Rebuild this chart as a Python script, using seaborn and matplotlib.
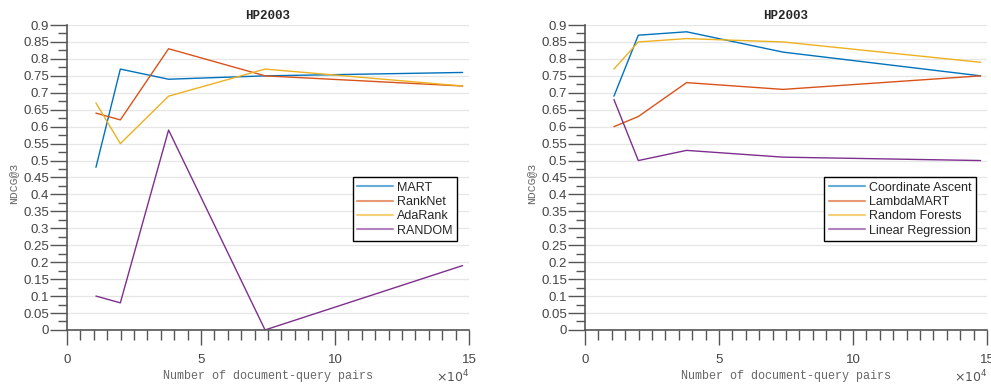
import numpy as np
import pandas as pd
import matplotlib
matplotlib.use("Agg")
import matplotlib.pyplot as plt
from matplotlib.ticker import MultipleLocator, FuncFormatter
import seaborn as sns

# ============================================================
# Data
# ============================================================

PAIRS = [10800, 19900, 37900, 73900, 147600]

LEFT_NAMES = ["MART", "RankNet", "AdaRank", "RANDOM"]
MART = [0.48, 0.77, 0.74, 0.75, 0.76]
RANKNET = [0.64, 0.62, 0.83, 0.75, 0.72]
ADARANK = [0.67, 0.55, 0.69, 0.77, 0.72]
RANDOM = [0.10, 0.08, 0.59, 0.00, 0.19]

RIGHT_NAMES = ["Coordinate Ascent", "LambdaMART", "Random Forests", "Linear Regression"]
COORD_ASCENT = [0.69, 0.87, 0.88, 0.82, 0.75]
LAMBDAMART = [0.60, 0.63, 0.73, 0.71, 0.75]
RANDOM_FORESTS = [0.77, 0.85, 0.86, 0.85, 0.79]
LINEAR_REG = [0.68, 0.50, 0.53, 0.51, 0.50]

COLORS = ["#0072BD", "#D95319", "#EDB120", "#7E2F8E"]
TITLE = "HP2003"
XLABEL = "Number of document-query pairs"
YLABEL = "NDCG@3"

# ============================================================
# Helpers
# ============================================================

def to_long(names, series):
    rows = []
    for name, vals in zip(names, series):
        for x, y in zip(PAIRS, vals):
            rows.append({"pairs": x, "ndcg": y, "model": name})
    return pd.DataFrame(rows)


def fmt_y(v, pos):
    if abs(v) < 1e-9:
        return "0"
    return f"{v:.2f}".rstrip("0").rstrip(".")


def draw_panel(ax, df, names, legend_x):
    sns.lineplot(data=df, x="pairs", y="ndcg", hue="model", hue_order=names,
                 palette=COLORS, linewidth=1.0, ax=ax, legend=True, errorbar=None)

    ax.set_xlim(0, 150000)
    ax.set_ylim(0, 0.9)
    ax.xaxis.set_major_locator(MultipleLocator(50000))
    ax.xaxis.set_minor_locator(MultipleLocator(5000))
    ax.xaxis.set_major_formatter(FuncFormatter(lambda v, p: f"{v / 1e4:g}"))
    ax.yaxis.set_major_locator(MultipleLocator(0.05))
    ax.yaxis.set_minor_locator(MultipleLocator(0.025))
    ax.yaxis.set_major_formatter(FuncFormatter(fmt_y))

    ax.grid(True, axis="y", which="major", color="#e6e6e6", linewidth=0.9)
    ax.set_axisbelow(True)
    for side in ["top", "right"]:
        ax.spines[side].set_visible(False)
    for side in ["left", "bottom"]:
        ax.spines[side].set_color("#555555")
        ax.spines[side].set_linewidth(1.2)

    ax.tick_params(axis="both", which="both", bottom=True, left=True, direction="out",
                   width=1.0, color="#555555")
    ax.tick_params(axis="both", which="major", labelcolor="#444444", labelsize=9.5)
    ax.tick_params(axis="y", which="major", length=12, pad=1)
    ax.tick_params(axis="y", which="minor", length=6.5)
    ax.tick_params(axis="x", which="major", length=11, pad=6)
    ax.tick_params(axis="x", which="minor", length=7.2)

    ax.set_title(TITLE, fontsize=9, fontweight="bold", family="Liberation Mono", pad=4)
    ax.set_xlabel(XLABEL, fontsize=8.5, family="Liberation Mono", color="#666666", labelpad=3)
    ax.set_ylabel(YLABEL, fontsize=8.2, family="Liberation Mono", color="#666666")
    ax.yaxis.set_label_coords(-0.122, 0.48)
    ax.text(1.0, -0.155, r"$\times10^4$", transform=ax.transAxes, ha="right", va="center",
            fontsize=9, color="#555555")

    leg = ax.legend(loc="upper left", bbox_to_anchor=(legend_x, 0.5), fontsize=9,
                    fancybox=False, framealpha=1, edgecolor="black",
                    handlelength=2.9, handletextpad=0.3, labelspacing=0.18,
                    borderpad=0.35, borderaxespad=0)
    leg.get_frame().set_linewidth(1.0)
    for line in leg.get_lines():
        line.set_linewidth(1.5)
        line.set_alpha(0.6)


# ============================================================
# Figure
# ============================================================

sns.set_style("white")
plt.rcParams["font.family"] = ["Liberation Sans", "DejaVu Sans"]

fig = plt.figure(figsize=(9.91, 3.85), dpi=100)
ax_left = fig.add_axes([0.0676, 0.143, 0.4057, 0.792])
ax_right = fig.add_axes([0.5903, 0.143, 0.4057, 0.792])

left_df = to_long(LEFT_NAMES, [MART, RANKNET, ADARANK, RANDOM])
right_df = to_long(RIGHT_NAMES, [COORD_ASCENT, LAMBDAMART, RANDOM_FORESTS, LINEAR_REG])

draw_panel(ax_left, left_df, LEFT_NAMES, 0.711)
draw_panel(ax_right, right_df, RIGHT_NAMES, 0.595)

fig.savefig("out.png", dpi=100)
plt.close(fig)
